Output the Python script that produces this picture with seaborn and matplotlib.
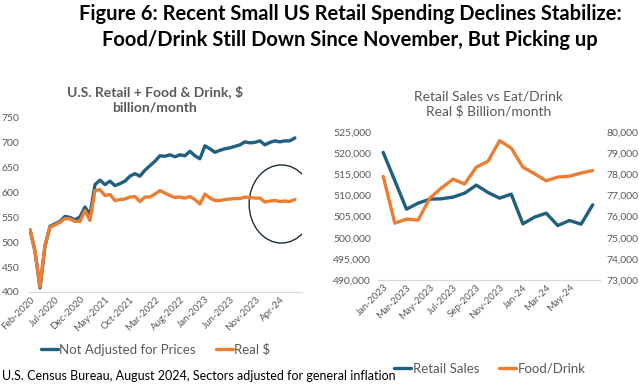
import numpy as np
import pandas as pd
import matplotlib
matplotlib.use("Agg")
import matplotlib.pyplot as plt
from matplotlib.patches import Ellipse
import seaborn as sns

# left chart: monthly, Feb-2020 .. Jul-2024
not_adjusted = [525, 482, 408, 492, 532, 537, 542, 552, 550, 545,
                551, 571, 555, 616, 625, 616, 623, 614, 618, 623,
                633, 638, 633, 645, 654, 663, 674, 673, 676, 672,
                676, 674, 683, 674, 668, 694, 688, 681, 685, 688,
                690, 693, 696, 702, 700, 701, 704, 696, 701, 704,
                702, 704, 704, 710]
real_dollars = [525, 482, 410, 495, 530, 535, 540, 548, 547, 542,
                542, 564, 544, 604, 606, 594, 596, 584, 586, 587,
                591, 592, 582, 591, 591, 597, 604, 599, 594, 590,
                591, 589, 592, 586, 577, 597, 589, 584, 584, 586,
                587, 588, 588, 591, 590, 589, 589, 581, 583, 584,
                582, 583, 582, 586]
left_ticklabels = ["Feb-2020", "Jul-2020", "Dec-2020", "May-2021", "Oct-2021",
                   "Mar-2022", "Aug-2022", "Jan-2023", "Jun-2023", "Nov-2023", "Apr-24"]

# right chart: monthly, Jan-2023 .. Jul-2024
retail_sales = [520180, 513470, 506750, 508170, 509120, 509200, 509600, 510540,
                512440, 510700, 509360, 510300, 503280, 504860, 505800, 502880,
                504070, 503200, 507780]
food_drink = [77900, 75690, 75880, 75830, 76870, 77350, 77770, 77540,
              78340, 78610, 79590, 79240, 78340, 78025, 77690, 77870,
              77910, 78060, 78180]
right_ticklabels = ["Jan-2023", "Mar-2023", "May-2023", "Jul-2023", "Sep-2023",
                    "Nov-2023", "Jan-24", "Mar-24", "May-24"]

BLUE = "#1f5f7f"
ORANGE = "#ed7d31"
GRAY = "#595959"

sns.set_style("white")
plt.rcParams['font.family'] = ['Lato', 'DejaVu Sans']

fig = plt.figure(figsize=(6.39, 3.87), dpi=100)

fig.text(0.548, 0.99, "Figure 6: Recent Small US Retail Spending Declines Stabilize:\n"
         "Food/Drink Still Down Since November, But Picking up",
         ha="center", va="top", fontsize=14.5, fontweight="bold", color="black",
         linespacing=1.4)

# ---- left chart
df_left = pd.DataFrame({"i": np.arange(len(not_adjusted)),
                        "Not Adjusted for Prices": not_adjusted,
                        "Real $": real_dollars})
ax1 = fig.add_axes([0.0454, 0.2455, 0.427, 0.4496])
sns.lineplot(data=df_left, x="i", y="Not Adjusted for Prices", ax=ax1, color=BLUE,
             lw=2.4, label="Not Adjusted for Prices")
sns.lineplot(data=df_left, x="i", y="Real $", ax=ax1, color=ORANGE,
             lw=2.4, label="Real $")
ax1.set_xlim(-0.2, 54.4)
ax1.set_ylim(400, 750)
ax1.set_yticks(range(400, 751, 50))
ax1.set_xticks(range(0, len(not_adjusted), 5)[:len(left_ticklabels)])
ax1.set_xticklabels(left_ticklabels, rotation=45, ha="right", rotation_mode="anchor")
ax1.set_xlabel("")
ax1.set_ylabel("")
for s in ["left", "right", "top"]:
    ax1.spines[s].set_visible(False)
ax1.spines["bottom"].set_color("#d9d9d9")
ax1.tick_params(axis="both", length=0, labelsize=7, labelcolor=GRAY, pad=2)
ax1.tick_params(axis="y", pad=7, labelsize=7.5)
ax1.set_title("U.S. Retail + Food & Drink, $\nbillion/month", fontsize=10,
              fontweight="bold", color=GRAY, pad=5, x=0.46, linespacing=1.25)
ax1.add_patch(Ellipse((50.3, 577), 12.9, 157, fill=False, ec="#1c2e3a", lw=1.0))
ax1.legend(loc="upper left", bbox_to_anchor=(0.0, -0.227), ncol=2, frameon=False,
           fontsize=9.5, handlelength=1.3, handletextpad=0.1, columnspacing=1.5,
           labelcolor=GRAY)

# ---- right chart
df_right = pd.DataFrame({"i": np.arange(len(retail_sales)),
                         "Retail Sales": retail_sales,
                         "Food/Drink": food_drink})
ax2 = fig.add_axes([0.5915, 0.2765, 0.347, 0.3824])
ax3 = ax2.twinx()
sns.lineplot(data=df_right, x="i", y="Retail Sales", ax=ax2, color=BLUE, lw=2.4,
             legend=False)
sns.lineplot(data=df_right, x="i", y="Food/Drink", ax=ax3, color=ORANGE, lw=2.4,
             legend=False)
ax2.set_xlim(-0.45, 18.6)
ax2.set_ylim(490000, 525000)
ax3.set_ylim(73000, 80000)
ax2.set_yticks(range(490000, 525001, 5000))
ax3.set_yticks(range(73000, 80001, 1000))
ax2.yaxis.set_major_formatter(matplotlib.ticker.StrMethodFormatter("{x:,.0f}"))
ax3.yaxis.set_major_formatter(matplotlib.ticker.StrMethodFormatter("{x:,.0f}"))
ax2.set_xticks(range(0, len(retail_sales), 2)[:len(right_ticklabels)])
ax2.set_xticklabels(right_ticklabels, rotation=45, ha="right", rotation_mode="anchor")
for a in (ax2, ax3):
    a.set_xlabel("")
    a.set_ylabel("")
    for s in ["left", "right", "top"]:
        a.spines[s].set_visible(False)
    a.spines["bottom"].set_color("#d9d9d9")
    a.tick_params(axis="both", length=0, labelsize=7, labelcolor=GRAY, pad=2)
ax2.tick_params(axis="y", pad=5, labelsize=7.5)
ax3.tick_params(axis="y", pad=5, labelsize=7.5)
ax2.set_title("Retail Sales vs Eat/Drink\nReal $ Billion/month", fontsize=10,
              color=GRAY, pad=12, linespacing=1.25)
handles = [plt.Line2D([0], [0], color=BLUE, lw=2.4),
           plt.Line2D([0], [0], color=ORANGE, lw=2.4)]
ax3.legend(handles, ["Retail Sales", "Food/Drink"], loc="upper left",
           bbox_to_anchor=(0.02, -0.48), ncol=2, frameon=False, fontsize=9.5,
           handlelength=1.3, handletextpad=0.1, columnspacing=1.5, labelcolor=GRAY)

fig.text(0.003, 0.028, "U.S. Census Bureau, August 2024, Sectors adjusted for general inflation",
         ha="left", va="center", fontsize=9, color="black")

fig.savefig("out.png", dpi=100)
